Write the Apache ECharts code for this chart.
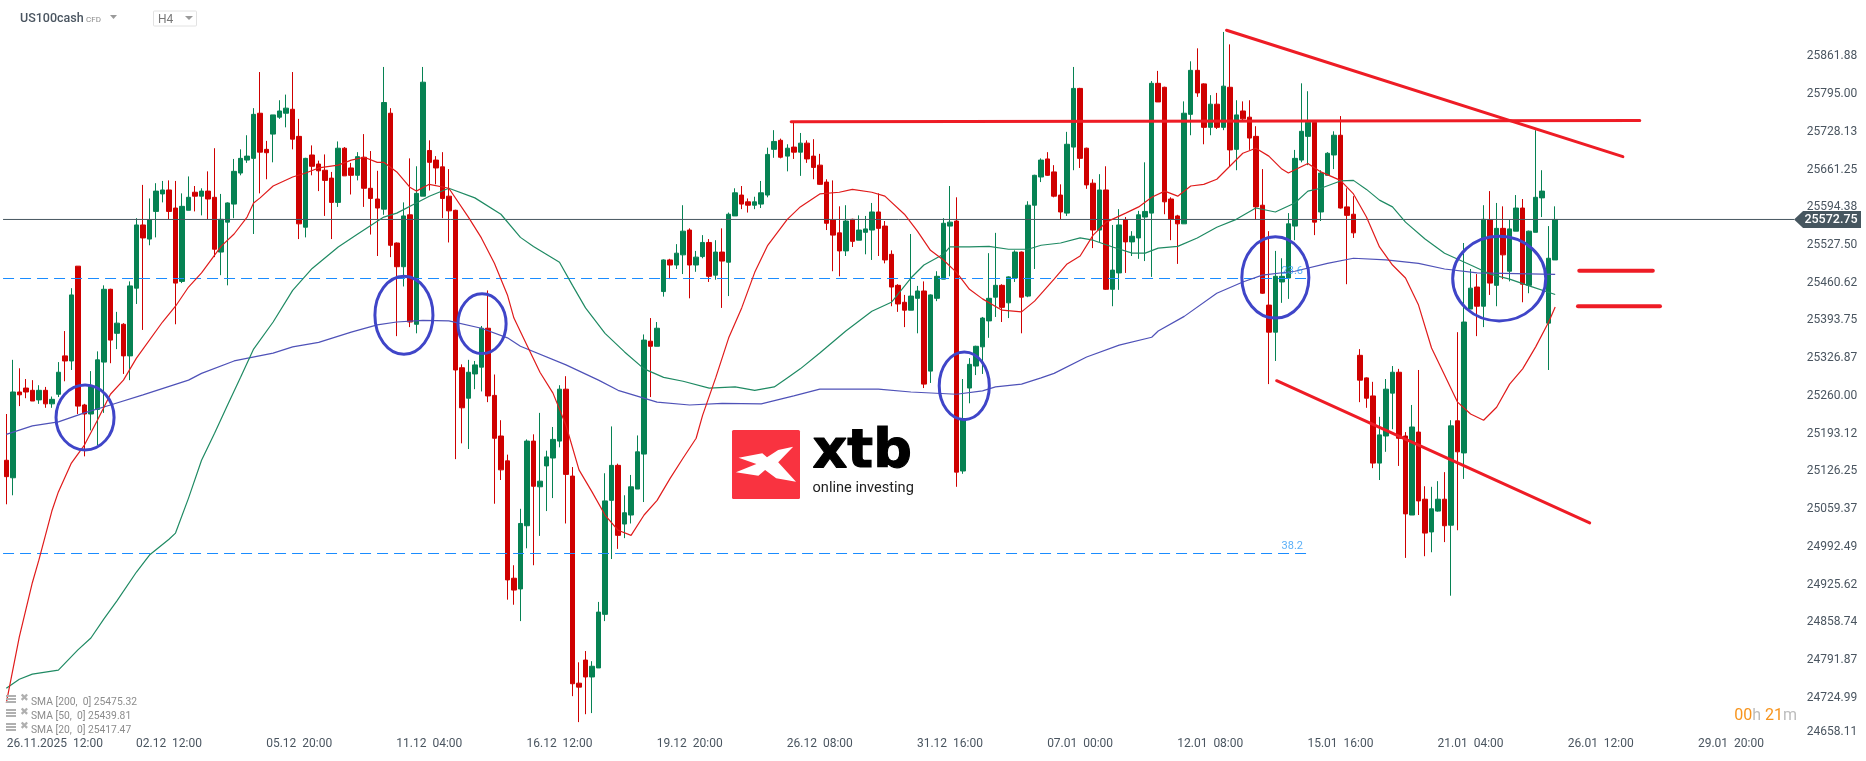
<!DOCTYPE html>
<html><head><meta charset="utf-8">
<style>html,body{margin:0;padding:0;background:#fff}#c{width:1866px;height:761px}</style>
<script src="https://cdn.jsdelivr.net/npm/echarts@6/dist/echarts.min.js"></script>
</head><body><div id="c"></div>
<script>
// [open, close, low, high]
const candles = [
[25146,25117,25068,25228],[25115,25267,25084,25324],[25267,25262,25242,25309],[25274,25267,25256,25290],[25270,25251,25251,25288],
[25253,25270,25246,25279],[25270,25246,25239,25276],[25246,25254,25239,25259],[25263,25302,25258,25320],[25331,25322,25286,25375],
[25322,25439,25306,25451],[25490,25242,25228,25490],[25244,25228,25153,25246],[25228,25277,25199,25304],[25236,25324,25173,25339],
[25320,25449,25230,25456],[25449,25359,25318,25450],[25371,25389,25343,25409],[25387,25331,25299,25389],[25331,25455,25288,25463],
[25451,25563,25423,25575],[25563,25540,25377,25634],[25538,25572,25527,25610],[25587,25623,25541,25637],[25618,25625,25603,25641],
[25625,25587,25573,25642],[25593,25460,25387,25641],[25463,25596,25460,25619],[25589,25612,25589,25649],[25621,25614,25587,25632],
[25614,25623,25580,25628],[25623,25609,25573,25658],[25612,25520,25506,25699],[25515,25573,25474,25618],[25568,25602,25456,25603],
[25600,25658,25575,25680],[25655,25681,25651,25697],[25678,25685,25673,25722],[25681,25759,25547,25770],[25761,25692,25619,25834],
[25697,25691,25644,25712],[25724,25758,25674,25758],[25754,25765,25751,25784],[25761,25770,25736,25794],[25768,25715,25697,25834],
[25720,25565,25538,25751],[25559,25681,25541,25682],[25687,25667,25651,25704],[25671,25659,25623,25677],[25660,25642,25579,25688],
[25646,25603,25538,25657],[25603,25699,25595,25711],[25699,25650,25650,25701],[25664,25651,25617,25673],[25651,25684,25642,25692],
[25683,25628,25595,25724],[25628,25610,25546,25694],[25609,25593,25508,25659],[25591,25780,25581,25843],[25761,25527,25506,25770],
[25531,25489,25366,25532],[25489,25579,25454,25603],[25581,25391,25382,25681],[25387,25619,25371,25667],[25614,25816,25614,25843],
[25695,25674,25624,25713],[25678,25664,25635,25685],[25666,25610,25575,25692],[25614,25588,25532,25662],[25589,25306,25148,25590],
[25310,25239,25176,25316],[25256,25302,25166,25324],[25299,25315,25272,25322],[25311,25380,25268,25384],[25380,25260,25249,25447],
[25261,25185,25069,25298],[25189,25129,25111,25217],[25145,24934,24899,25156],[24937,24916,24890,24960],[24918,25034,24861,25060],
[25030,25180,24990,25183],[25180,25100,24960,25192],[25099,25109,25012,25230],[25136,25152,25056,25163],[25150,25183,25079,25205],
[25180,25272,25169,25279],[25272,25121,25034,25295],[25118,24750,24728,25134],[24751,24744,24682,24788],[24792,24762,24696,24808],
[24762,24781,24698,24790],[24778,24877,24778,24895],[24873,25074,24861,25123],[25075,25137,24971,25206],[25137,25013,24989,25140],
[25033,25053,25008,25084],[25049,25099,25034,25120],[25095,25161,25095,25190],[25157,25359,25072,25369],[25357,25348,25258,25398],
[25348,25380,25348,25391],[25445,25501,25436,25502],[25501,25492,25467,25503],[25492,25513,25485,25529],[25510,25552,25476,25598],
[25554,25492,25433,25557],[25492,25506,25480,25517],[25507,25532,25504,25545],[25532,25472,25462,25538],[25474,25515,25466,25536],
[25515,25499,25416,25557],[25497,25582,25437,25585],[25579,25620,25579,25628],[25616,25600,25591,25632],[25604,25598,25585,25610],
[25598,25604,25591,25613],[25600,25620,25593,25641],[25616,25688,25612,25700],[25697,25711,25682,25731],[25713,25683,25681,25716],
[25685,25699,25658,25706],[25701,25692,25680,25745],[25692,25708,25650,25726],[25708,25680,25673,25713],[25685,25665,25644,25715],
[25669,25635,25634,25689],[25639,25566,25554,25644],[25572,25545,25481,25642],[25549,25517,25472,25596],[25517,25570,25508,25598],
[25573,25534,25524,25574],[25536,25554,25536,25580],[25550,25556,25511,25579],[25554,25586,25501,25602],[25586,25557,25508,25619],
[25561,25501,25495,25570],[25511,25453,25419,25518],[25456,25423,25409,25458],[25426,25412,25382,25439],[25412,25437,25412,25547],
[25433,25446,25371,25455],[25446,25281,25274,25463],[25304,25439,25283,25440],[25433,25472,25428,25481],[25467,25566,25467,25575],
[25561,25568,25472,25632],[25570,25125,25099,25612],[25127,25220,25122,25290],[25274,25316,25247,25327],[25313,25348,25297,25349],
[25347,25398,25299,25400],[25393,25433,25363,25513],[25435,25456,25400,25549],[25456,25417,25391,25458],[25425,25471,25398,25472],
[25469,25515,25462,25518],[25515,25435,25371,25516],[25437,25598,25435,25605],[25598,25651,25485,25652],[25648,25678,25639,25681],
[25680,25651,25650,25692],[25657,25614,25612,25669],[25616,25586,25573,25635],[25584,25706,25579,25728],[25701,25805,25660,25843],
[25805,25681,25664,25806],[25699,25634,25627,25700],[25637,25554,25522,25644],[25554,25625,25533,25653],[25625,25449,25448,25667],
[25449,25483,25419,25563],[25478,25563,25448,25591],[25572,25533,25478,25577],[25533,25543,25508,25552],[25540,25581,25503,25588],
[25577,25587,25499,25674],[25584,25814,25471,25818],[25814,25781,25781,25836],[25807,25604,25582,25808],[25609,25573,25536,25612],
[25579,25565,25494,25581],[25565,25761,25565,25782],[25759,25837,25722,25853],[25837,25797,25790,25876],[25813,25736,25706,25814],
[25736,25777,25722,25793],[25777,25736,25733,25797],[25736,25809,25731,25905],[25807,25696,25667,25883],[25697,25758,25660,25784],
[25765,25751,25749,25782],[25754,25717,25696,25784],[25720,25595,25572,25738],[25598,25442,25441,25662],[25421,25373,25281,25552],
[25373,25472,25322,25517],[25462,25472,25425,25504],[25469,25565,25432,25584],[25561,25681,25536,25696],[25678,25729,25674,25814],
[25720,25745,25669,25800],[25745,25568,25545,25746],[25586,25655,25570,25660],[25651,25690,25651,25692],[25687,25722,25662,25729],
[25722,25593,25592,25756],[25595,25580,25458,25628],[25582,25549,25540,25614],[25332,25288,25249,25343],[25292,25256,25239,25293],
[25260,25141,25132,25285],[25141,25191,25111,25223],[25189,25272,25161,25290],[25265,25302,25201,25313],[25302,25185,25136,25308],
[25189,25051,24973,25196],[25049,25205,25049,25244],[25196,25074,25049,25306],[25077,25017,24976,25100],[25019,25060,24983,25099],
[25056,25077,25055,25109],[25077,25030,25001,25125],[25031,25207,24906,25217],[25216,25161,25022,25373],[25159,25391,25113,25531],
[25414,25451,25414,25485],[25453,25419,25366,25476],[25419,25573,25382,25598],[25572,25460,25439,25623],[25456,25557,25419,25602],
[25557,25510,25467,25596],[25481,25556,25463,25572],[25552,25593,25552,25616],[25593,25458,25426,25609],[25456,25552,25442,25553],
[25550,25612,25550,25731],[25611,25623,25577,25660],[25389,25504,25306,25561],[25501,25572.75,25501,25596]
];
// [candle index, SMA value]
const sma20 = [[0,24716],[2,24833],[4,24929],[5,24969],[7,25056],[8,25090],[10,25141],[12,25173],[14,25217],[16,25263],[18,25288],[20,25327],[24,25391],[26,25419],[28,25453],[30,25478],[33,25525],[35,25547],[37,25577],[38,25602],[39,25611],[41,25632],[44,25648],[46,25655],[48,25664],[51,25669],[53,25678],[55,25683],[57,25674],[58,25674],[60,25657],[62,25630],[63,25623],[65,25635],[68,25628],[71,25577],[73,25540],[75,25495],[77,25439],[78,25398],[80,25350],[82,25302],[84,25265],[86,25208],[88,25129],[90,25090],[92,25049],[94,25022],[96,25013],[98,25049],[100,25075],[102,25114],[104,25150],[106,25185],[107,25226],[109,25292],[111,25363],[113,25416],[115,25479],[117,25527],[120,25573],[122,25595],[125,25618],[128,25621],[130,25626],[133,25621],[135,25614],[138,25582],[140,25552],[142,25518],[144,25501],[146,25479],[148,25449],[150,25432],[153,25412],[156,25409],[158,25428],[161,25467],[163,25494],[165,25508],[167,25545],[169,25568],[172,25584],[174,25595],[176,25612],[178,25623],[180,25614],[182,25632],[184,25635],[186,25644],[188,25667],[190,25690],[192,25699],[194,25685],[196,25662],[197,25655],[200,25672],[202,25657],[205,25642],[207,25618],[209,25577],[211,25524],[213,25492],[215,25469],[217,25421],[219,25345],[221,25297],[223,25249],[225,25228],[227,25217],[229,25240],[231,25281],[233,25308],[235,25347],[237,25391],[238,25417.47]];
const sma50 = [[0,24742],[2,24758],[4,24767],[8,24774],[11,24810],[13,24831],[15,24865],[17,24897],[20,24948],[22,24978],[25,25006],[26,25017],[28,25079],[30,25146],[32,25194],[34,25244],[36,25293],[38,25343],[41,25391],[44,25447],[47,25486],[51,25524],[54,25547],[58,25577],[60,25584],[63,25602],[65,25614],[68,25628],[72,25611],[76,25582],[79,25541],[81,25525],[85,25497],[87,25456],[89,25416],[92,25371],[95,25338],[98,25308],[101,25293],[104,25286],[108,25274],[112,25276],[115,25270],[118,25276],[120,25292],[122,25308],[125,25336],[129,25375],[133,25410],[136,25426],[139,25469],[141,25492],[144,25511],[145,25524],[148,25524],[151,25525],[154,25520],[157,25520],[159,25527],[162,25531],[165,25540],[167,25536],[170,25524],[173,25513],[175,25513],[177,25522],[180,25525],[183,25540],[186,25559],[189,25573],[192,25593],[195,25586],[198,25602],[200,25623],[202,25628],[205,25641],[207,25642],[209,25626],[211,25607],[213,25595],[215,25568],[218,25538],[221,25513],[225,25492],[228,25476],[231,25467],[234,25455],[238,25439.81]];
const sma200 = [[0,25192],[4,25207],[8,25214],[12,25230],[16,25244],[21,25262],[28,25288],[30,25300],[35,25322],[41,25336],[44,25347],[48,25355],[53,25373],[57,25386],[60,25391],[64,25394],[68,25393],[73,25380],[77,25363],[79,25348],[86,25315],[91,25288],[94,25270],[100,25249],[105,25244],[110,25247],[116,25246],[121,25260],[125,25272],[134,25272],[139,25267],[146,25263],[150,25269],[152,25276],[156,25281],[159,25292],[161,25300],[166,25329],[171,25350],[176,25364],[177,25375],[181,25401],[186,25442],[190,25462],[193,25474],[198,25481],[203,25495],[207,25504],[212,25501],[217,25495],[221,25485],[226,25478],[238,25475.32]];

const categoryCount = 277;
const labelSlots = [8,25,45,65,85,105,125,145,165,185,205,225,245,265];
const timeLabels = ['26.11.2025  12:00','02.12  12:00','05.12  20:00','11.12  04:00','16.12  12:00','19.12  20:00','26.12  08:00','31.12  16:00','07.01  00:00','12.01  08:00','15.01  16:00','21.01  04:00','26.01  12:00','29.01  20:00'];
const priceTicks = [25861.88,25795.00,25728.13,25661.25,25594.38,25527.50,25460.62,25393.75,25326.87,25260.00,25193.12,25126.25,25059.37,24992.49,24925.62,24858.74,24791.87,24724.99,24658.11];
const lastPrice = 25572.75;
const fib236 = 25468.1, fib382 = 24980.8;
const fibEndIndex = 199.8, fibLabelIndex = 197.6;
const legendRows = ['SMA [200,  0] 25475.32','SMA [50,  0] 25439.81','SMA [20,  0] 25417.47'];
// [start index, start price, end index, end price]
const thickLines = [[120.6,25746,251,25748],[187.5,25908,248.4,25684],[195.2,25287,243.3,25035]];
const shortLevels = [[241.7,25482,253,25482],[241.5,25419,254.1,25419]];
// [centre index, centre price, half width in candles, half height in price]
const circledZones = [[12.1,25222,4.46,57.6],[61.1,25403,4.46,69],[73.1,25388,3.7,53],[147.2,25278,3.85,60],[195.0,25470,5.15,72],[229.4,25468,7.15,75]];

const categories = [];
for (let i = 0; i < categoryCount; i++) {
  const k = labelSlots.indexOf(i);
  categories.push(k >= 0 ? timeLabels[k] : '');
}
const GREEN = '#068253', RED = '#cf0000', TREND = '#ee1c25', FIB = '#1a8cff', SLATE = '#46565f';
const AX = {xAxisIndex:1, yAxisIndex:0};
const segSeries = (s, w, z) => s.map(a => ({type:'line', ...AX, data:[[a[0],a[1]],[a[2],a[3]]], showSymbol:false, silent:true, z,
  lineStyle:{color:TREND, width:w, cap:'round'}}));
const smaSeries = (d, color) => ({type:'line', ...AX, data:d, showSymbol:false, silent:true, z:4, lineStyle:{color, width:1.2}});
const fibSeries = p => ({type:'line', ...AX, data:[[-0.5,p],[fibEndIndex,p]], showSymbol:false, silent:true, z:3, lineStyle:{color:FIB, width:1, type:[11,6]}});
const fibLabel = (p, t) => ({type:'scatter', ...AX, data:[[fibLabelIndex,p]], symbolSize:0, silent:true, z:7,
  label:{show:true, position:'top', distance:2, formatter:t, color:'#2f9bf5', fontFamily:'Roboto', fontSize:11}});

const text = (t, x, y, font, fill, extra) => ({type:'text', z:8, style:Object.assign({text:t, x, y, font, fill, verticalAlign:'middle'}, extra||{})});
const tri = (x, y, w, h, fill) => ({type:'polygon', z:8, shape:{points:[[x,y],[x+w,y],[x+w/2,y+h]]}, style:{fill}});
const graphic = [
  text('US100cash',20,19,'500 12.5px Roboto','#4a5560'),
  text('CFD',86,19.5,'8px Roboto','#8c8c8c'),
  tri(110,15,7,4,'#9a9a9a'),
  {type:'rect', z:8, shape:{x:153.5,y:11,width:43,height:15,r:1}, style:{fill:'#fff', stroke:'#e2e2e2', lineWidth:1}},
  text('H4',158,20,'12px Roboto','#777'),
  tri(185,16,8,4,'#9a9a9a'),
  {type:'rect', z:1, shape:{x:732,y:430,width:68,height:69,r:1.5}, style:{fill:'#f93340'}},
  {type:'polygon', z:1, shape:{points:[[738.6,457.7],[762.3,453.3],[767,457.3],[778.2,450],[793.2,446.7],[778.2,462.3],[796,481.7],[776.2,478.3],[765.1,470],[758.4,475.7],[735.9,472.3],[756.4,464]]}, style:{fill:'#fff'}},
  text('xtb',812.5,453,'bold 54px "DejaVu Sans"','#000',{stroke:'#000', lineWidth:1.2}),
  text('online investing',812.5,488,'14.6px Roboto','#222'),
  {type:'text', z:8, style:{text:'{o|00}{g|h} {o|21}{g|m}', x:1797, y:716, align:'right', verticalAlign:'middle', font:'16px Roboto',
    rich:{o:{fill:'#f7941d', font:'16px Roboto'}, g:{fill:'#bdbdbd', font:'16px Roboto'}}}},
];
legendRows.forEach((t, k) => {
  const y = 695 + k*14;
  [0,3,6].forEach(d => graphic.push({type:'rect', z:8, shape:{x:6,y:y+d,width:10,height:2}, style:{fill:'#b0b0b0'}}));
  graphic.push(text('\u2716',20,y+3.5,'10.5px "DejaVu Sans"','#b0b0b0'));
  graphic.push(text(t,31,y+7,'10.3px Roboto','#8c8c8c'));
});

const chart = echarts.init(document.getElementById('c'), null, {renderer:'canvas'});
chart.setOption({
  animation:false,
  backgroundColor:'#fff',
  textStyle:{fontFamily:'Roboto'},
  graphic,
  grid:{left:3.05, top:0, width:1802.7, height:735.6, containLabel:false},
  xAxis:[
    {type:'category', data:categories, boundaryGap:true, axisLine:{show:false}, axisTick:{show:false}, splitLine:{show:false},
     axisLabel:{interval:i => labelSlots.indexOf(i) >= 0, margin:2, hideOverlap:false, color:'#4a5560', fontSize:12, fontFamily:'Roboto',
       formatter:v => v === timeLabels[0] ? '{a|'+v+'}' : v, rich:{a:{padding:[0,7,0,0], color:'#4a5560', fontSize:12, fontFamily:'Roboto'}}}},
    {type:'value', show:false, min:-0.5, max:categoryCount-0.5, splitLine:{show:false}}
  ],
  yAxis:{type:'value', position:'right', min:24658.11, max:25961.65, scale:true, axisLine:{show:false}, axisTick:{show:false}, splitLine:{show:false},
    axisLabel:{customValues:priceTicks, margin:1, color:'#4a5560', fontSize:12, fontFamily:'Roboto', showMinLabel:true, showMaxLabel:true,
      formatter:v => Math.abs(v-24658.11) < .01 ? '{low|'+v.toFixed(2)+'}' : v.toFixed(2),
      rich:{low:{padding:[0,0,8,0], color:'#4a5560', fontSize:12, fontFamily:'Roboto'}}}},
  series:[
    {type:'candlestick', xAxisIndex:0, yAxisIndex:0, data:candles, barWidth:5, z:2, silent:true,
     itemStyle:{color:GREEN, color0:RED, borderColor:GREEN, borderColor0:RED, borderWidth:1}},
    fibSeries(fib236), fibSeries(fib382), fibLabel(fib236,'23.6'), fibLabel(fib382,'38.2'),
    {type:'line', ...AX, data:[[-0.5,lastPrice],[274.7,lastPrice]], showSymbol:false, silent:true, z:3, lineStyle:{color:SLATE, width:1}},
    smaSeries(sma200,'#4f52b8'), smaSeries(sma50,'#1f8a63'), smaSeries(sma20,'#e01b1b'),
    ...segSeries(thickLines,3,5), ...segSeries(shortLevels,4,5),
    {type:'custom', ...AX, coordinateSystem:'cartesian2d', data:circledZones, z:6, silent:true, encode:{x:0,y:1},
     renderItem:(p, api) => {
       const c = api.coord([api.value(0), api.value(1)]);
       const e = api.coord([api.value(0)+api.value(2), api.value(1)+api.value(3)]);
       return {type:'ellipse', shape:{cx:c[0], cy:c[1], rx:e[0]-c[0], ry:c[1]-e[1]}, style:{fill:'none', stroke:'#3f45c8', lineWidth:3}};
     }},
    {type:'custom', ...AX, coordinateSystem:'cartesian2d', data:[[274.7,lastPrice]], z:9, silent:true, encode:{x:0,y:1},
     renderItem:(p, api) => {
       const c = api.coord([api.value(0), api.value(1)]);
       const y = c[1], x = c[0];
       return {type:'group', children:[
         {type:'polygon', shape:{points:[[x,y],[x+9,y-8.5],[1861,y-8.5],[1861,y+8.5],[x+9,y+8.5]]}, style:{fill:SLATE}},
         {type:'text', style:{text:lastPrice.toFixed(2), x:1831, y:y+.5, align:'center', verticalAlign:'middle', font:'500 12.5px Roboto', fill:'#fff'}}
       ]};
     }}
  ]
});
</script></body></html>
